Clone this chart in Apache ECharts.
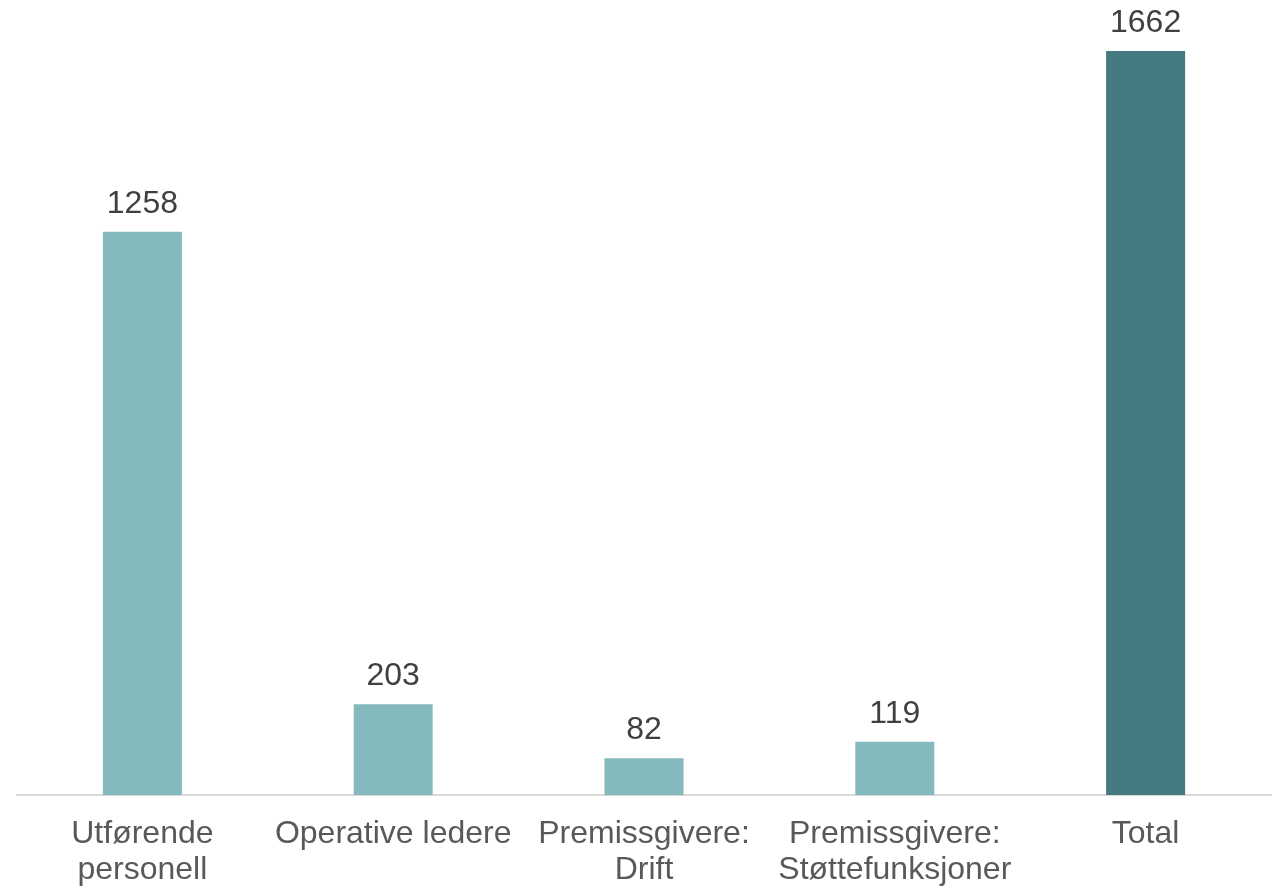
<!DOCTYPE html>
<html><head><meta charset="utf-8">
<script src="https://cdn.jsdelivr.net/npm/echarts@6/dist/echarts.min.js"></script>
<style>html,body{margin:0;padding:0;background:#fff}#c{width:1284px;height:889px}</style>
</head><body><div id="c"></div>
<script>
const categories = ['Utførende\npersonell', 'Operative ledere', 'Premissgivere:\nDrift', 'Premissgivere:\nStøttefunksjoner', 'Total'];
const values = [1258, 203, 82, 119, 1662];
const barColors = ['#84BABE', '#84BABE', '#84BABE', '#84BABE', '#447A80'];

const chart = echarts.init(document.getElementById('c'));
chart.setOption({
  animation: false,
  grid: {left: 17, right: 13, top: 51, bottom: 94, containLabel: false},
  xAxis: {
    type: 'category', data: categories,
    axisLine: {lineStyle: {color: '#d9d9d9', width: 2}},
    axisTick: {show: false},
    axisLabel: {color: '#595959', fontSize: 32, fontFamily: 'Liberation Sans', lineHeight: 36, margin: 21, interval: 0}
  },
  yAxis: {type: 'value', min: 0, max: 1662, show: false, splitLine: {show: false}},
  series: [{
    type: 'bar', barWidth: 79,
    data: values.map((v, i) => ({value: v, itemStyle: {color: barColors[i]}})),
    label: {show: true, position: 'top', distance: 12, color: '#404040', fontSize: 32, fontFamily: 'Liberation Sans'}
  }]
});
</script></body></html>
